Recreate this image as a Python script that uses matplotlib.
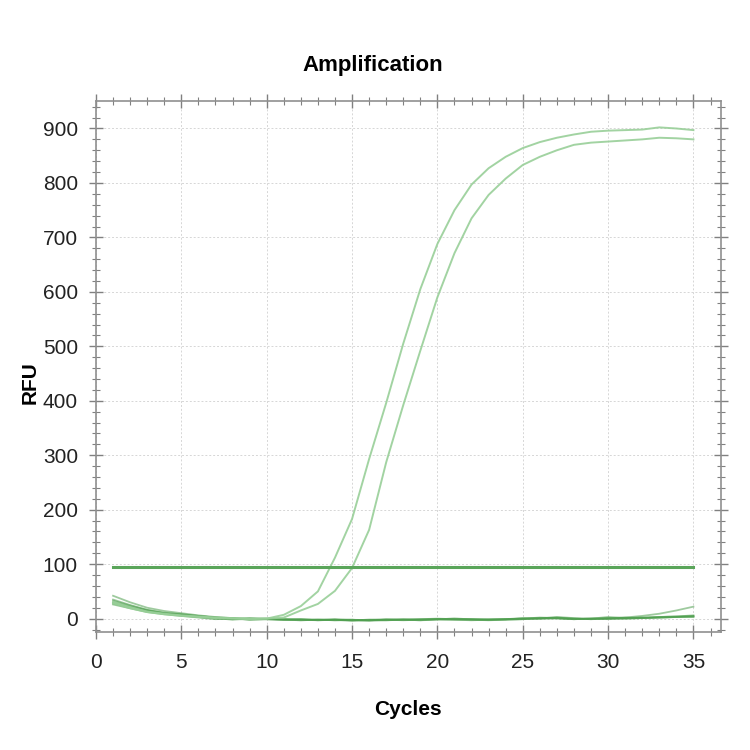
import matplotlib
matplotlib.use('Agg')
import matplotlib.pyplot as plt
import numpy as np
from matplotlib.ticker import MultipleLocator

plt.rcParams['font.family'] = ['Liberation Sans Narrow', 'Liberation Sans', 'DejaVu Sans']

cycles = list(range(1, 36))

# two positive samples
sample_a = [30, 21, 13, 9, 6, 4, 2, 1, 0, 0, 7, 23, 50, 112, 183, 293, 396, 505, 605, 688,
            750, 797, 827, 848, 864, 875, 883, 889, 894, 896, 897, 898, 902, 900, 897]
sample_b = [28, 19, 12, 8, 5, 3, 1, 0, -1, 0, 2, 15, 27, 51, 93, 163, 287, 392, 492, 590,
            671, 735, 778, 808, 833, 848, 860, 870, 874, 876, 878, 880, 883, 882, 880]

# negatives / no template
neg_1 = [42, 30, 20, 14, 10, 6, 3, 1, 0, -1, -2, -3, -2, -3, -2, -3, -2, -1, -2, -1,
         0, -1, -2, -1, 0, 1, 0, -1, 0, 1, 2, 5, 9, 15, 22]
neg_2 = [35, 25, 16, 11, 8, 5, 2, 0, -1, 0, -1, -2, -3, -2, -4, -3, -2, -3, -2, -1,
         -2, -3, -2, -1, 0, 2, 1, -1, 0, 1, 0, 1, 2, 3, 4]
neg_3 = [30, 22, 15, 10, 7, 4, 1, -2, 0, -1, -2, -1, -3, -2, -3, -2, -3, -2, -3, -2,
         -1, -2, -1, -2, -1, 0, 3, 1, 0, -1, 0, 1, 3, 4, 5]
neg_4 = [28, 20, 13, 9, 6, 3, 0, -1, 1, 0, -2, -3, -2, -1, -2, -4, -3, -2, -1, 0,
         -1, -2, -3, -2, -1, 1, 2, 0, -1, 0, 1, 2, 2, 3, 3]
neg_5 = [33, 24, 16, 10, 8, 5, 2, 1, -2, -1, -1, -2, -2, -3, -3, -2, -1, -2, -3, -1,
         0, -1, -2, -1, 0, 0, 1, 0, -1, 0, 2, 1, 2, 3, 4]
neg_6 = [26, 19, 12, 8, 5, 2, -1, 0, -2, -1, -2, -1, -2, -2, -3, -3, -2, -2, -1, -1,
         -2, -1, -2, -1, 1, 0, 1, -1, 0, 3, 1, 2, 3, 4, 6]

threshold = 95

fig = plt.figure(figsize=(7.5, 7.5), dpi=100)
ax = fig.add_axes([0.128, 0.157, 0.833, 0.708])

for s in [neg_1, neg_2, neg_3, neg_4, neg_5, neg_6]:
    ax.plot(cycles, s, color='#4f9f4f', lw=1.3, alpha=0.55)
for s in [sample_a, sample_b]:
    ax.plot(cycles, s, color='#98cf98', lw=1.4, alpha=0.9)

ax.plot([cycles[0], cycles[-1]], [threshold, threshold], color='#5aa55a', lw=2.2)

ax.set_xlim(0, 36.6)
ax.set_ylim(-25, 950)
ax.xaxis.set_major_locator(MultipleLocator(5))
ax.xaxis.set_minor_locator(MultipleLocator(1))
ax.yaxis.set_major_locator(MultipleLocator(100))
ax.yaxis.set_minor_locator(MultipleLocator(20))

ax.grid(which='major', color='#d6d6d6', ls=(0, (2, 2)), lw=0.7)
ax.tick_params(which='both', direction='inout', top=True, right=True, colors='#808080',
               labelcolor='#222222', labelsize=15)
ax.tick_params(which='major', length=10, width=1)
ax.tick_params(which='minor', length=6, width=0.8)
ax.tick_params(axis='x', pad=10)
ax.tick_params(axis='y', pad=8)
for sp in ax.spines.values():
    sp.set_color('#909090')
    sp.set_linewidth(1.2)

ax.set_xlabel('Cycles', fontsize=15, fontweight='bold', labelpad=20)
fig.text(0.040, 0.49, 'RFU', fontsize=15, fontweight='bold', rotation=90,
         ha='center', va='center')
fig.text(0.497, 0.913, 'Amplification', fontsize=16, fontweight='bold', ha='center', va='center')

fig.savefig('out.png', dpi=100)
